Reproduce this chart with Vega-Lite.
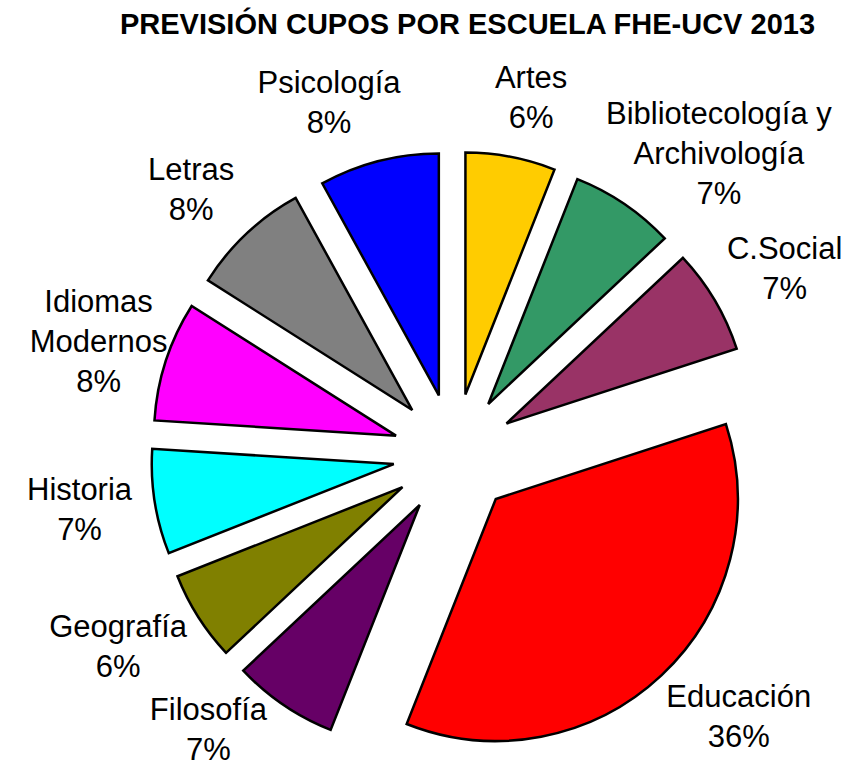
{
  "$schema": "https://vega.github.io/schema/vega-lite/v6.json",
  "width": 849,
  "height": 765,
  "padding": 0,
  "autosize": {"type": "none"},
  "background": "white",
  "config": {"view": {"stroke": null}},
  "title": {
    "text": "PREVISIÓN CUPOS POR ESCUELA FHE-UCV 2013",
    "font": "Liberation Sans",
    "fontSize": 29,
    "fontWeight": "bold",
    "color": "black",
    "anchor": "middle",
    "dx": 43,
    "offset": -40
  },
  "data": {
    "values": [
      {"orden": 1, "escuela": "Artes", "etiqueta": "Artes", "pct": 6},
      {"orden": 2, "escuela": "Bibliotecología y Archivología", "etiqueta": "Bibliotecología y\nArchivología", "pct": 7},
      {"orden": 3, "escuela": "C.Social", "etiqueta": "C.Social", "pct": 7},
      {"orden": 4, "escuela": "Educación", "etiqueta": "Educación", "pct": 36},
      {"orden": 5, "escuela": "Filosofía", "etiqueta": "Filosofía", "pct": 7},
      {"orden": 6, "escuela": "Geografía", "etiqueta": "Geografía", "pct": 6},
      {"orden": 7, "escuela": "Historia", "etiqueta": "Historia", "pct": 7},
      {"orden": 8, "escuela": "Idiomas Modernos", "etiqueta": "Idiomas\nModernos", "pct": 8},
      {"orden": 9, "escuela": "Letras", "etiqueta": "Letras", "pct": 8},
      {"orden": 10, "escuela": "Psicología", "etiqueta": "Psicología", "pct": 8}
    ]
  },
  "transform": [
    {"window": [{"op": "sum", "field": "pct", "as": "fin"}], "sort": [{"field": "orden"}], "frame": [null, 0]},
    {"calculate": "datum.fin - datum.pct", "as": "inicio"},
    {"calculate": "(datum.inicio + datum.fin) / 100 * PI", "as": "medio"},
    {"calculate": "61 * sin(datum.medio)", "as": "ox"},
    {"calculate": "61 * cos(datum.medio)", "as": "oy"},
    {"calculate": "datum.etiqueta + '\\n' + datum.pct + '%'", "as": "texto"},
    {"calculate": "indexof(datum.etiqueta, '\\n')", "as": "corte"},
    {"calculate": "(datum.corte >= 0 ? datum.corte : length(datum.etiqueta)) * 14.6", "as": "ancho"},
    {"calculate": "datum.corte >= 0 ? 3 : 2", "as": "lineas"},
    {"calculate": "datum.lineas * 40", "as": "alto"},
    {"calculate": "clamp(320 * sin(datum.medio) + clamp(2.5 * sin(datum.medio), -1, 1) * datum.ancho / 2, -448 + datum.ancho / 2, 389 - datum.ancho / 2)", "as": "lx"},
    {"calculate": "max(362 * cos(datum.medio), datum.alto / 2 - 316.5) + (datum.lineas - 1) * 20", "as": "ly"}
  ],
  "layer": [
    {
      "mark": {"type": "arc", "radius": 242, "stroke": "black", "strokeWidth": 2.5, "strokeJoin": "miter"},
      "encoding": {
        "x": {"field": "ox", "type": "quantitative", "scale": {"domain": [-454, 395], "nice": false, "zero": false}, "axis": null},
        "y": {"field": "oy", "type": "quantitative", "scale": {"domain": [-310.5, 454.5], "nice": false, "zero": false}, "axis": null},
        "theta": {"field": "inicio", "type": "quantitative", "stack": null, "scale": {"domain": [0, 100], "range": [0, 6.283185307179586]}},
        "theta2": {"field": "fin"},
        "color": {
          "field": "escuela",
          "type": "nominal",
          "legend": null,
          "scale": {
            "domain": ["Artes", "Bibliotecología y Archivología", "C.Social", "Educación", "Filosofía", "Geografía", "Historia", "Idiomas Modernos", "Letras", "Psicología"],
            "range": ["#FFCC00", "#339966", "#993366", "#FF0000", "#660066", "#808000", "#00FFFF", "#FF00FF", "#808080", "#0000FF"]
          }
        }
      }
    },
    {
      "mark": {"type": "text", "font": "Liberation Sans", "fontSize": 31, "lineHeight": 40, "align": "center", "baseline": "middle", "lineBreak": "\n", "color": "black"},
      "encoding": {
        "x": {"field": "lx", "type": "quantitative", "scale": {"domain": [-454, 395], "nice": false, "zero": false}, "axis": null},
        "y": {"field": "ly", "type": "quantitative", "scale": {"domain": [-310.5, 454.5], "nice": false, "zero": false}, "axis": null},
        "text": {"field": "texto"}
      }
    }
  ]
}
